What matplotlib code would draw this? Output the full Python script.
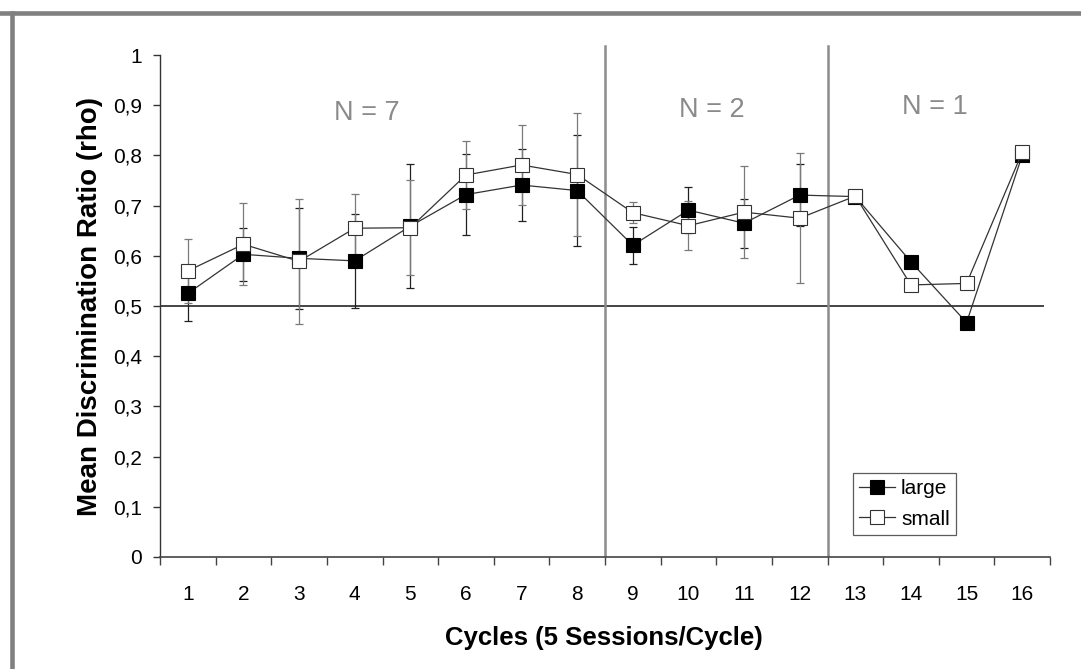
import numpy as np
import matplotlib
matplotlib.use("Agg")
import matplotlib.pyplot as plt
from matplotlib.lines import Line2D
from matplotlib.ticker import FixedLocator, FuncFormatter

plt.rcParams['font.family'] = ['Liberation Sans', 'DejaVu Sans']

cycles = list(range(1, 17))
large = [0.525, 0.603, 0.595, 0.590, 0.659, 0.722, 0.741, 0.730,
         0.621, 0.691, 0.665, 0.721, 0.718, 0.588, 0.467, 0.800]
small = [0.570, 0.623, 0.589, 0.655, 0.656, 0.761, 0.781, 0.762,
         0.686, 0.660, 0.687, 0.675, 0.719, 0.542, 0.545, 0.806]
large_err = [0.055, 0.0525, 0.100, 0.094, 0.123, 0.081, 0.0715, 0.111,
             0.037, 0.0455, 0.049, 0.061]
small_err = [0.063, 0.082, 0.124, 0.068, 0.095, 0.067, 0.080, 0.122,
             0.021, 0.049, 0.091, 0.129]
group_labels = ["N = 7", "N = 2", "N = 1"]
group_bounds = [8.5, 12.5]
chance = 0.5
y_ticks = [i / 10 for i in range(11)]

W, H = 1081, 669
fig = plt.figure(figsize=(W / 100, H / 100), dpi=100)
ax = fig.add_axes([160 / W, (H - 557) / H, 890 / W, 512 / H])
ax.set_xlim(0.5, 16.5)
ax.set_ylim(0, 1.02)

# reference lines
ax.plot([0.5, 16.37], [chance, chance], color='#444444', lw=1.4, zorder=1)
for b in group_bounds:
    ax.plot([b, b], [0, 1.019], color='#8c8c8c', lw=1.8, zorder=1)

n_err = len(large_err)
ax.errorbar(cycles[:n_err], large[:n_err], yerr=large_err, fmt='none',
            ecolor='#202020', elinewidth=0.9, capsize=3, capthick=0.9, zorder=2)
ax.errorbar(cycles[:n_err], small[:n_err], yerr=small_err, fmt='none',
            ecolor='#7a7a7a', elinewidth=0.9, capsize=3, capthick=0.9, zorder=2)

ax.plot(cycles, large, color='#333333', lw=0.9, marker='s', markersize=10,
        markerfacecolor='black', markeredgecolor='black', markeredgewidth=0.8,
        label='large', zorder=4)
ax.plot(cycles, small, color='#333333', lw=0.9, marker='s', markersize=10,
        markerfacecolor='white', markeredgecolor='#333333', markeredgewidth=0.8,
        label='small', zorder=5)

# group labels
for lab, xp, yp in zip(group_labels, [4.22, 10.42, 14.43], [0.884, 0.890, 0.896]):
    ax.text(xp, yp, lab, ha='center', va='center', color='#8a8a8a', fontsize=19.5)

# spines / ticks
for s in ['top', 'right']:
    ax.spines[s].set_visible(False)
ax.spines['left'].set_bounds(0, 1)
ax.spines['left'].set_color('#333333')
ax.spines['bottom'].set_color('#444444')
ax.spines['left'].set_linewidth(1.0)
ax.spines['bottom'].set_linewidth(1.2)

ax.yaxis.set_major_locator(FixedLocator(y_ticks))
ax.yaxis.set_major_formatter(FuncFormatter(lambda v, p: ('%g' % round(v, 1)).replace('.', ',')))
ax.tick_params(axis='y', direction='out', length=5, width=1, color='#333333',
               labelsize=15, pad=8)

ax.xaxis.set_major_locator(FixedLocator([i + 0.5 for i in range(0, 17)]))
ax.xaxis.set_major_formatter(FuncFormatter(lambda v, p: ''))
ax.xaxis.set_minor_locator(FixedLocator(cycles))
ax.xaxis.set_minor_formatter(FuncFormatter(lambda v, p: '%d' % v))
ax.tick_params(axis='x', which='major', direction='out', length=6, width=1, color='#444444')
ax.tick_params(axis='x', which='minor', length=0, labelsize=15, pad=20)

leg = ax.legend(loc='lower left', bbox_to_anchor=(0.7787, 0.043), frameon=True,
                fancybox=False, edgecolor='#333333', fontsize=15, borderaxespad=0,
                handlelength=1.7, handletextpad=0.3, borderpad=0.3, labelspacing=0.55)
leg.get_frame().set_linewidth(0.9)

fig.text(90 / W, 1 - 306 / H, 'Mean Discrimination Ratio (rho)', rotation=90,
         ha='center', va='center', fontsize=20, fontweight='bold')
fig.text(604 / W, 1 - 638 / H, 'Cycles (5 Sessions/Cycle)', ha='center', va='center',
         fontsize=18.5, fontweight='bold')

# outer frame (top and left)
fig.add_artist(Line2D([0, 1], [1 - 12.5 / H] * 2, transform=fig.transFigure,
                      color='#808080', lw=3.3))
fig.add_artist(Line2D([11.5 / W] * 2, [0, 1 - 12.5 / H], transform=fig.transFigure,
                      color='#808080', lw=3.3))

fig.savefig('out.png', dpi=100)
